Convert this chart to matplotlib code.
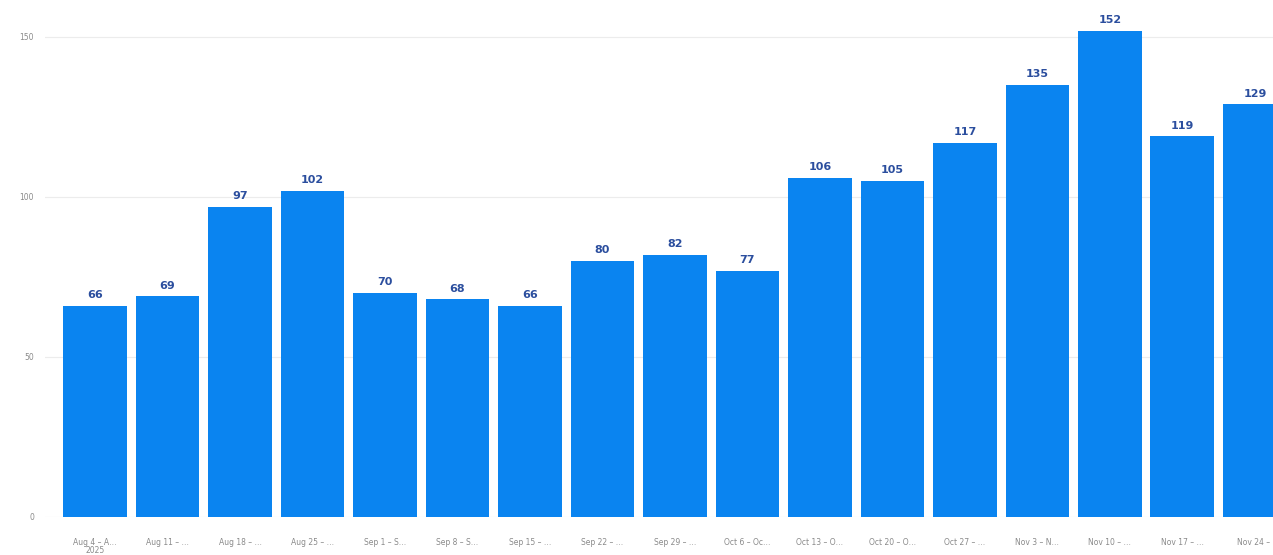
import matplotlib
matplotlib.use("Agg")
import matplotlib.pyplot as plt

categories = ["Aug 4 – A…\n2025", "Aug 11 – …", "Aug 18 – …", "Aug 25 – …", "Sep 1 – S…",
              "Sep 8 – S…", "Sep 15 – …", "Sep 22 – …", "Sep 29 – …", "Oct 6 – Oc…",
              "Oct 13 – O…", "Oct 20 – O…", "Oct 27 – …", "Nov 3 – N…", "Nov 10 – …",
              "Nov 17 – …", "Nov 24 – "]
values = [66, 69, 97, 102, 70, 68, 66, 80, 82, 77, 106, 105, 117, 135, 152, 119, 129]
yticks = [0, 50, 100, 150]

fig = plt.figure(figsize=(12.73, 5.55), dpi=100)
ax = fig.add_axes([0.0354, 0.0685, 0.9646, 0.9225])

x = list(range(len(values)))
bars = ax.bar(x, values, width=0.88, color="#0A84F0", zorder=2)
for xi, v in zip(x, values):
    ax.annotate(str(v), (xi, v), xytext=(0, 4), textcoords="offset points",
                ha="center", va="bottom", fontsize=8, fontweight="bold",
                color="#2B4E9E", zorder=3, annotation_clip=False)

ax.set_xlim(-0.69, 16.25)
ax.set_ylim(0, 160)
ax.set_yticks(yticks)
ax.set_yticklabels([str(t) for t in yticks])
ax.set_xticks(x)
ax.set_xticklabels(categories, linespacing=0.9)
ax.tick_params(axis="both", length=0, labelsize=5.5, labelcolor="#8a8a8a")
ax.tick_params(axis="y", pad=8)
ax.tick_params(axis="x", pad=15)
for lbl in ax.get_yticklabels():
    lbl.set_horizontalalignment("right")
ax.grid(axis="y", color="#ececec", linewidth=0.8, zorder=0)
for s in ax.spines.values():
    s.set_visible(False)

fig.savefig("out.png", dpi=100)
